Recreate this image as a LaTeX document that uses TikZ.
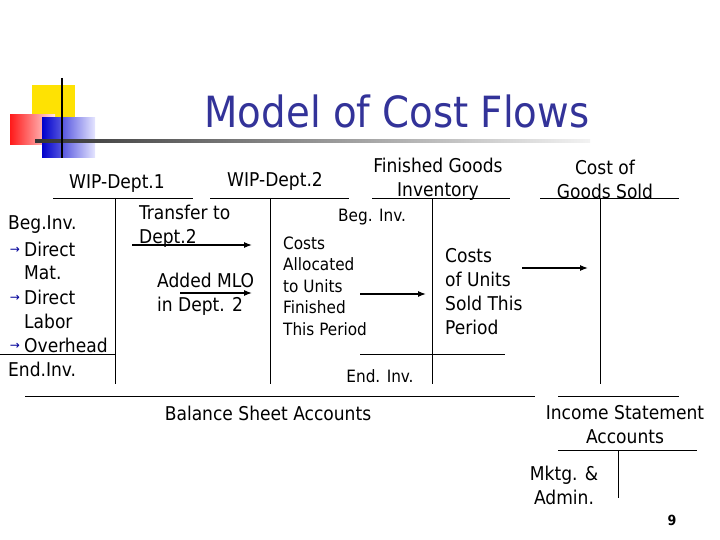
\documentclass[tikz,border=0pt]{standalone}
\usepackage{fontspec}
\setmainfont{DejaVu Sans Condensed}
\newfontfamily\symf{DejaVu Sans}
\usetikzlibrary{arrows.meta}
\definecolor{titleblue}{RGB}{51,51,153}
\begin{document}
\begin{tikzpicture}[x=1pt,y=-1pt,
  acc/.style={line width=0.8pt},
  arr/.style={line width=1.2pt,-{Latex[length=8pt,width=6pt]}},
  tx/.style={font=\fontsize{19}{24}\selectfont,inner sep=0pt},
  sm/.style={font=\fontsize{17}{21.5}\selectfont,inner sep=0pt}]
\useasboundingbox (0,0) rectangle (720,540);
% logo
\fill[yellow!85!orange] (32,85) rectangle (75,130);
\shade[left color=red!90,right color=red!10] (10,115) rectangle (55,145);
\shade[left color=blue!80!black,right color=blue!10] (42,118) rectangle (95,158);
\shade[left color=black!80,right color=black!5] (35,139.5) rectangle (590,143);
\draw[line width=2pt] (62,78) -- (62,158);
\node[font=\fontsize{43}{48}\selectfont,text=titleblue,inner sep=0pt] (title) at (397,111) {Model of Cost Flows};
% T accounts
\draw[acc] (53,198) -- (193,198); \draw[acc] (115,198) -- (115,384); \draw[acc] (0,354) -- (115,354);
\draw[acc] (210,198) -- (349,198); \draw[acc] (270,198) -- (270,384);
\draw[acc] (372,198) -- (510,198); \draw[acc] (432,198) -- (432,384); \draw[acc] (360,354) -- (505,354);
\draw[acc] (540,198) -- (679,198); \draw[acc] (600,198) -- (600,384);
\draw[acc] (25,396) -- (535,396); \draw[acc] (558,396) -- (679,396);
\draw[acc] (558,450) -- (697,450); \draw[acc] (618,450) -- (618,498);
% headers
\node[tx] (h1) at (117,184) {WIP-Dept.1};
\node[tx] (h2) at (275,181) {WIP-Dept.2};
\node[tx,align=center] (h3) at (438,179) {Finished Goods\\Inventory};
\node[tx,align=center] (h4) at (605,179) {Cost of\\Goods Sold};
% left column
\node[tx,anchor=west] (l1) at (8,225) {Beg.Inv.};
\node[tx,anchor=west] (l2) at (24,249) {Direct};
\node[tx,anchor=west] (l3) at (24,273) {Mat.};
\node[tx,anchor=west] (l4) at (24,297) {Direct};
\node[tx,anchor=west] (l5) at (24,321) {Labor};
\node[tx,anchor=west] (l6) at (24,345) {Overhead};
\node[tx,anchor=west] (l7) at (8,369) {End.Inv.};
\foreach \yy/\n in {250/a1,298/a2,346/a3}
  \node[inner sep=0pt,text=blue!60!black,font=\symf\fontsize{12}{12}\selectfont] (\n) at (15,\yy) {→};
\node[tx,anchor=west,align=left] (tr) at (139,226) {Transfer to\\Dept.2};
\node[tx,anchor=west,align=left] (ad) at (157,294) {Added MLO\\in Dept. 2};
\node[sm] (bi) at (372,217) {Beg. Inv.};
\node[sm,anchor=west,align=left] (ca) at (283,286) {Costs\\Allocated\\to Units\\Finished\\This Period};
\node[tx,anchor=west,align=left] (cu) at (445,292) {Costs\\of Units\\Sold This\\Period};
\node[sm] (ei) at (380,376) {End. Inv.};
\node[tx] (bs) at (268,413) {Balance Sheet Accounts};
\node[tx,align=center] (is) at (625,425) {Income Statement\\Accounts};
\node[tx,align=center] (mk) at (564,485) {Mktg. \&\\Admin.};
\node[font=\bfseries\fontsize{14}{14}\selectfont,inner sep=0pt] (pg) at (672,520) {9};
% arrows
\coordinate (s1) at (132,245); \coordinate (e1) at (252,245);
\coordinate (s2) at (180,293); \coordinate (e2) at (252,293);
\coordinate (s3) at (360,294); \coordinate (e3) at (426,294);
\coordinate (s4) at (522,268); \coordinate (e4) at (588,268);
\draw[arr] (s1) -- (e1); \draw[arr] (s2) -- (e2);
\draw[arr] (s3) -- (e3); \draw[arr] (s4) -- (e4);
\end{tikzpicture}
\end{document}
